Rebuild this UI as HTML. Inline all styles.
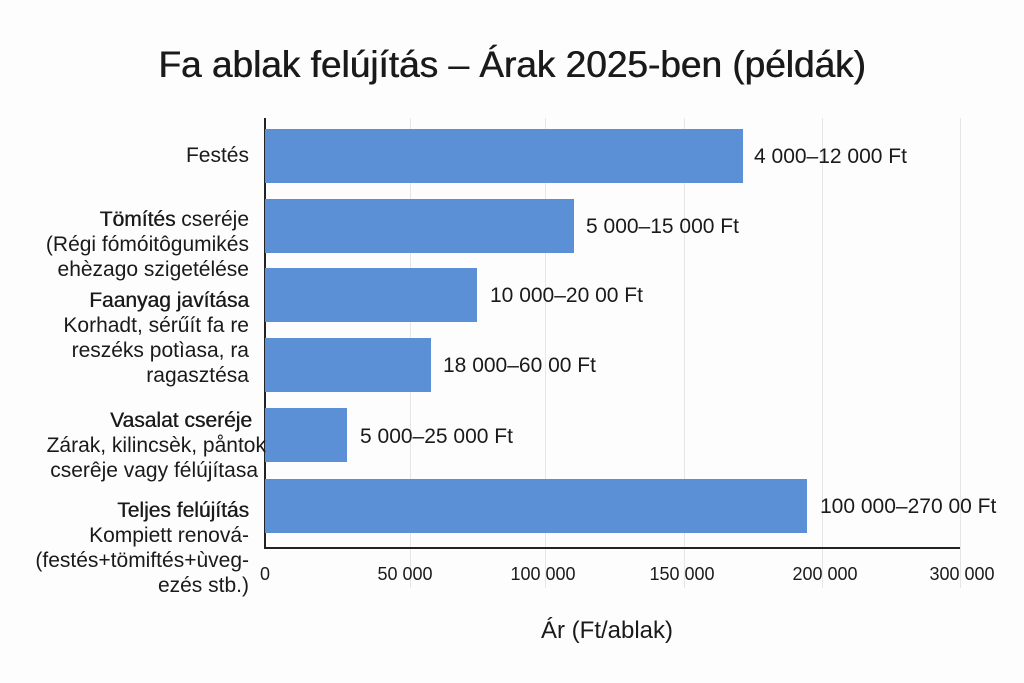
<!DOCTYPE html>
<html><head><meta charset="utf-8"><style>
body{margin:0;width:1024px;height:683px;background:#fdfdfd;position:relative;overflow:hidden;font-family:"Liberation Sans",sans-serif;color:#1a1a1a}
.a{position:absolute;white-space:nowrap}
.bar{position:absolute;left:265px;height:54px;background:#5b8fd6}
.g{position:absolute;top:118px;height:470px;width:1px;background:#e6e6e6}
.lab{position:absolute;right:775px;text-align:right;font-size:21px;line-height:25px;white-space:nowrap}
.h{text-shadow:0.4px 0 0 #1a1a1a}
.v{position:absolute;font-size:21px;white-space:nowrap}
.t{position:absolute;top:564px;font-size:18px;white-space:nowrap;transform:translateX(-50%)}
</style></head><body>
<div class="a" style="left:0;width:1024px;text-align:center;top:44px;font-size:37px;text-shadow:0.6px 0 0 #1a1a1a">Fa ablak felújítás – Árak 2025-ben (példák)</div>
<div class="g" style="left:410px"></div><div class="g" style="left:545px"></div><div class="g" style="left:684px"></div><div class="g" style="left:822px"></div><div class="g" style="left:960px"></div>
<div class="a" style="left:264px;top:118px;width:2px;height:431px;background:#222"></div>
<div class="a" style="left:264px;top:547px;width:696px;height:2px;background:#222"></div>
<div class="bar" style="top:129px;width:478px"></div>
<div class="bar" style="top:199px;width:309px"></div>
<div class="bar" style="top:268px;width:212px"></div>
<div class="bar" style="top:338px;width:166px"></div>
<div class="bar" style="top:408px;width:82px"></div>
<div class="bar" style="top:479px;width:542px"></div>
<div class="v" style="left:754px;top:145px">4 000–12 000 Ft</div>
<div class="v" style="left:586px;top:215px">5 000–15 000 Ft</div>
<div class="v" style="left:490px;top:284px">10 000–20 00 Ft</div>
<div class="v" style="left:443px;top:354px">18 000–60 00 Ft</div>
<div class="v" style="left:360px;top:425px">5 000–25 000 Ft</div>
<div class="v" style="left:820px;top:495px">100 000–270 00 Ft</div>
<div class="lab" style="top:143px">Festés</div>
<div class="lab" style="top:207px"><span class="h">Tömítés</span> cseréje<br>(Régi fómóitôgumikés<br>ehèzago szigetélése</div>
<div class="lab" style="top:288px"><span class="h">Faanyag javítása</span><br>Korhadt, sérűít fa re<br>reszéks potìasa, ra<br>ragasztésa</div>
<div class="lab" style="top:408px;right:772px"><span class="h">Vasalat cseréje</span></div>
<div class="lab" style="top:433px;right:758px">Zárak, kilincsèk, påntok</div>
<div class="lab" style="top:458px;right:766px">cserêje vagy félújítasa</div>
<div class="lab" style="top:498px"><span class="h">Teljes felújítás</span><br>Kompiett renová-<br>(festés+tömiftés+ùveg-<br>ezés stb.)</div>
<div class="t" style="left:265px">0</div>
<div class="t" style="left:405px">50 000</div>
<div class="t" style="left:543px">100 000</div>
<div class="t" style="left:682px">150 000</div>
<div class="t" style="left:825px">200 000</div>
<div class="t" style="left:962px">300 000</div>
<div class="a" style="left:541px;top:617px;font-size:24px">Ár (Ft/ablak)</div>
</body></html>
